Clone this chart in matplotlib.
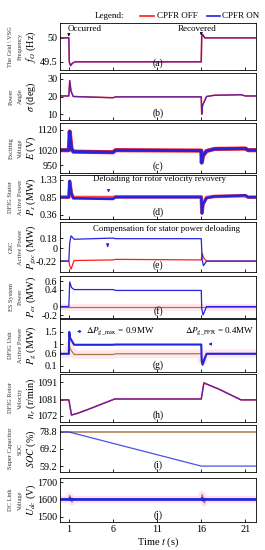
import matplotlib
matplotlib.use("Agg")
import matplotlib.pyplot as plt
import numpy as np

plt.rcParams['font.family'] = ['Liberation Serif', 'DejaVu Serif']
plt.rcParams['mathtext.fontset'] = 'stix'

RED = '#ff1a1a'
BLUE = '#2323e0'
BROWN = '#a87a4a'
T_END = 22.2

# (a) grid / VSG frequency
t_freq = [0, 1, 1.05, 1.2, 1.4, 1.7, 16, 16.05, 16.15, 16.4, T_END]
freq = [50, 50, 49.5, 49.42, 49.47, 49.5, 49.5, 50.03, 50.07, 50.0, 50.0]

# (b) power angle
t_ang = [0, 1, 1.1, 1.25, 1.5, 6, 6.3, 16, 16.05, 16.15, 16.6, 17.5, 20.5, 21, T_END]
ang = [20.3, 20.3, 29, 23, 20, 19.3, 19.8, 19.8, 10, 15, 20, 20.7, 21, 20.3, 20.3]

# (c) exciting voltage
t_E = [0, 1, 1.1, 1.3, 1.5, 6, 6.3, 16, 16.05, 16.2, 16.6, 17.5, 21, 21.3, T_END]
E = [1022, 1022, 1112, 1030, 1015, 1012, 1022, 1020, 962, 995, 1018, 1028, 1030, 1022, 1022]

# (d) DFIG stator active power
t_Ps = [0, 1, 1.1, 1.3, 1.5, 6, 6.3, 16, 16.08, 16.2, 16.6, 17.5, 21, 21.3, T_END]
Ps_on = [0.85, 0.85, 1.3, 0.95, 0.82, 0.8, 0.85, 0.85, 0.4, 0.65, 0.83, 0.87, 0.9, 0.85, 0.85]
Ps_off = [0.85, 0.85, 1.28, 0.95, 0.84, 0.84, 0.86, 0.86, 0.42, 0.66, 0.84, 0.87, 0.89, 0.85, 0.85]

# (e) GSC active power
t_gsc = [0, 1, 1.1, 1.25, 1.6, 6, 6.3, 16, 16.1, 16.25, 16.6, T_END]
gsc_on = [-0.22, -0.22, 0.1, 0.22, 0.16, 0.18, 0.17, 0.17, -0.2, -0.3, -0.22, -0.22]
gsc_off = [-0.22, -0.22, -0.3, -0.36, -0.21, -0.2, -0.19, -0.2, -0.08, -0.16, -0.22, -0.22]

# (f) ES system power
t_es = [0, 1, 1.1, 1.3, 1.6, 6, 6.3, 16, 16.05, 16.2, 16.6, T_END]
es_on = [0, 0, 0.58, 0.45, 0.4, 0.4, 0.38, 0.38, -0.05, -0.2, 0, 0]
t_es_off = [0, T_END]
es_off = [0, 0]

# (g) DFIG unit active power
t_Pg = [0, 1, 1.05, 1.15, 1.6, 6, 6.3, 16, 16.05, 16.15, 16.6, T_END]
Pg_on = [0.6, 0.6, 1.5, 1.25, 0.97, 0.97, 0.98, 0.98, 0.3, 0.15, 0.6, 0.6]
Pg_off = [0.6, 0.6, 0.95, 0.8, 0.57, 0.57, 0.6, 0.6, 0.35, 0.3, 0.6, 0.6]

# (h) DFIG rotor velocity
t_nr = [0, 1, 1.3, 2, 3, 6.2, 16, 16.3, 18, 20.5, T_END]
nr = [1081, 1081, 1072.5, 1073.5, 1075.3, 1081.5, 1081.5, 1090.5, 1087, 1081, 1081]

# (i) super capacitor SOC
t_soc = [0, 1, 16, T_END]
soc_on = [78.8, 78.8, 59.2, 59.2]
t_soc_off = [0, T_END]
soc_off = [78.8, 78.8]

# (j) DC link voltage
t_dc = [0, 1, 1.1, 1.2, 1.35, 1.5, 16, 16.1, 16.2, 16.35, 16.5, T_END]
dc_on = [1600, 1600, 1605, 1598, 1602, 1600, 1600, 1605, 1596, 1602, 1600, 1600]
dc_off = [1600, 1600, 1622, 1612, 1585, 1600, 1600, 1628, 1610, 1580, 1600, 1600]

xticks = [1, 6, 11, 16, 21]

panels = [
    # (top px, bottom px, ylim, yticks, yticklabels, ylabels, tag)
    (23, 70, (49.33, 50.31), [49.5, 50], ['49.5', '50'],
     ['The Grid \\ VSG', 'Frequency', r'$f_{G}$ (Hz)'], '(a)'),
    (73, 120, (6.7, 33.3), [10, 20, 30], ['10', '20', '30'],
     ['Power', 'Angle', r'$\sigma$ (deg)'], '(b)'),
    (123, 173, (912, 1153), [950, 1020, 1120], ['950', '1020', '1120'],
     ['Exciting', 'Voltage', r'$E$ (V)'], '(c)'),
    (175, 219, (0.25, 1.46), [0.36, 0.85, 1.33], ['0.36', '0.85', '1.33'],
     ['DFIG Stator', 'Active Power', r'$P_{s}$ (MW)'], '(d)'),
    (222, 272, (-0.41, 0.46), [-0.22, 0, 0.18], ['-0.22', '0', '0.18'],
     ['GSC', 'Active Power', r'$P_{gsc}$ (MW)'], '(e)'),
    (276, 318, (-0.27, 0.72), [-0.2, 0, 0.4, 0.6], ['-0.2', '0', '0.4', '0.6'],
     ['ES System', 'Power', r'$P_{es}$ (MW)'], '(f)'),
    (319, 372, (-0.15, 2.03), [0.1, 0.6, 1, 1.5], ['0.1', '0.6', '1', '1.5'],
     ['DFIG Unit', 'Active Power', r'$P_{g}$ (MW)'], '(g)'),
    (374, 422, (1068.6, 1095.5), [1072, 1081, 1091], ['1072', '1081', '1091'],
     ['DFIG Rotor', 'Velocity', r'$n_{r}$ (r/min)'], '(h)'),
    (425, 472, (55.8, 82.8), [59.2, 69.2, 78.8], ['59.2', '69.2', '78.8'],
     ['Super Capacitor', 'SOC', r'$SOC$ (%)'], '(i)'),
    (478, 522, (1471, 1723), [1500, 1600, 1700], ['1500', '1600', '1700'],
     ['DC Link', 'Voltage', r'$U_{dc}$ (V)'], '(j)'),
]

W, H = 265, 550
fig = plt.figure(figsize=(W / 100, H / 100), dpi=100)
L, R = 60, 256

axes = []
for top, bot, ylim, yt, ytl, ylab, tag in panels:
    ax = fig.add_axes([L / W, 1 - bot / H, (R - L) / W, (bot - top) / H])
    ax.set_xlim(0, T_END)
    ax.set_ylim(*ylim)
    ax.set_xticks(xticks)
    ax.set_yticks(yt)
    ax.set_yticklabels(ytl)
    ax.tick_params(direction='in', length=2.5, width=0.6, labelsize=7.3, pad=2)
    for s in ax.spines.values():
        s.set_linewidth(0.6)
    ax.text(0.5, 0.04, tag, transform=ax.transAxes, ha='center', va='bottom', fontsize=7)
    yc = 1 - (top + bot) / 2 / H
    fig.text(11 / W, yc, ylab[0], rotation=90, ha='center', va='center', fontsize=4.6, color='#333333')
    fig.text(20 / W, yc, ylab[1], rotation=90, ha='center', va='center', fontsize=4.6, color='#333333')
    fig.text(31 / W, yc, ylab[2], rotation=90, ha='center', va='center', fontsize=7.3)
    axes.append(ax)

for ax in axes[:-1]:
    ax.set_xticklabels([])
axes[-1].set_xlabel(r'Time $t$ (s)', fontsize=7.5, labelpad=1)

a, b, c, d, e, f, g, h, i, j = axes

# (a)
a.plot(t_freq, freq, color=RED, lw=1.1)
a.plot(t_freq, freq, color=BLUE, lw=0.9, alpha=0.75)
a.text(0.9, 50.27, 'Occurred', fontsize=6.5, va='top')
a.text(15.5, 50.27, 'Recovered', fontsize=6.5, va='top', ha='center')
a.annotate('', xy=(1, 50.03), xytext=(1, 50.13),
           arrowprops=dict(arrowstyle='-|>', color='k', lw=0.5, mutation_scale=4))
a.annotate('', xy=(16, 50.05), xytext=(16, 50.15),
           arrowprops=dict(arrowstyle='-|>', color='k', lw=0.5, mutation_scale=4))

# legend above (a)
fig.text(95 / W, 1 - 16 / H, 'Legend:', fontsize=6.5, va='center')
fig.add_artist(plt.Line2D([140 / W, 154 / W], [1 - 16 / H] * 2, color=RED, lw=1.2))
fig.text(157 / W, 1 - 16 / H, 'CPFR OFF', fontsize=6.5, va='center')
fig.add_artist(plt.Line2D([207 / W, 220 / W], [1 - 16 / H] * 2, color=BLUE, lw=1.2))
fig.text(222 / W, 1 - 16 / H, 'CPFR ON', fontsize=6.5, va='center')

# (b)
b.plot(t_ang, ang, color=RED, lw=1.1)
b.plot(t_ang, ang, color=BLUE, lw=0.9, alpha=0.75)

# (c)
c.plot(t_E, E, color=RED, lw=3.0)
c.plot(t_E, E, color=BLUE, lw=2.1)

# (d)
d.plot(t_Ps, Ps_off, color=RED, lw=2.6, alpha=0.8)
d.plot(t_Ps, Ps_on, color=BLUE, lw=1.8)
d.text(11.3, 1.36, 'Deloading for rotor velocity revovery', fontsize=6.3, ha='center', va='center')
d.annotate('', xy=(5.5, 0.9), xytext=(5.5, 1.12),
           arrowprops=dict(arrowstyle='-|>', color=BLUE, lw=0.6, mutation_scale=4))

# (e)
e.plot(t_gsc, gsc_off, color=RED, lw=0.9)
e.plot(t_gsc, gsc_on, color=BLUE, lw=0.9)
e.text(12.0, 0.33, 'Compensation for stator power deloading', fontsize=6.3, ha='center', va='center')
e.annotate('', xy=(5.4, 0.02), xytext=(5.4, 0.1),
           arrowprops=dict(arrowstyle='-|>', color=BLUE, lw=0.8, mutation_scale=4))

# (f)
f.plot(t_es_off, es_off, color='#ffb0c8', lw=5, alpha=0.3)
f.plot(t_es_off, es_off, color=BROWN, lw=0.9)
f.plot(t_es, es_on, color=BLUE, lw=0.9)

# (g)
g.plot(t_Pg, Pg_off, color='#ffb0c8', lw=6, alpha=0.3)
g.plot(t_Pg, Pg_off, color=BROWN, lw=0.9)
g.plot(t_Pg, Pg_on, color=BLUE, lw=1.5)
g.annotate('', xy=(1.6, 1.52), xytext=(2.7, 1.52),
           arrowprops=dict(arrowstyle='-|>', color=BLUE, lw=0.6, mutation_scale=4))
g.text(3.0, 1.52, r'$\Delta P_{\rm g\_max}$ = 0.9MW', fontsize=6.5, va='center')
g.text(22.0, 1.52, r'$\Delta P_{\rm g\_PFR}$ = 0.4MW', fontsize=6.5, va='center', ha='right')
g.annotate('', xy=(16.5, 1.0), xytext=(17.5, 1.0),
           arrowprops=dict(arrowstyle='-|>', color=BLUE, lw=0.6, mutation_scale=4))

# (h)
h.plot(t_nr, nr, color=RED, lw=1.1)
h.plot(t_nr, nr, color=BLUE, lw=0.9, alpha=0.75)

# (i)
i.plot(t_soc_off, soc_off, color=BROWN, lw=1.1)
i.plot(t_soc, soc_on, color=BLUE, lw=0.9, alpha=0.8)

# (j)
j.plot(t_dc, dc_off, color='#ffb0c8', lw=5, alpha=0.35)
j.plot(t_dc, dc_off, color=BROWN, lw=0.9)
j.plot(t_dc, dc_on, color=BLUE, lw=2.0)

fig.savefig('out.png', dpi=100)
